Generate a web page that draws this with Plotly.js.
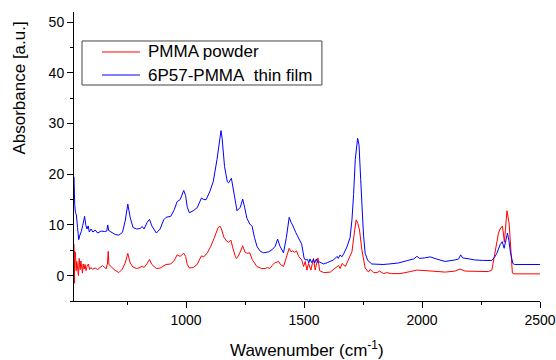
<!DOCTYPE html>
<html>
<head>
<meta charset="utf-8">
<script src="https://cdn.plot.ly/plotly-3.0.1.min.js"></script>
<style>html,body{margin:0;padding:0;background:#fff;}#chart{width:556px;height:360px;}</style>
</head>
<body>
<div id="chart"></div>
<script>
// Series names
var seriesNames = ["PMMA powder", "6P57-PMMA\u00a0 thin film"];
var seriesColors = ["#ff0000", "#0000ff"];

// PMMA powder (red)
var powderWn = [525,526.5,528,531,534,537,540,544,547,551,554,558,561,564,568,572,576,580,586,591,596,603,615,625,635,646,655,662,667,670,673,681,695,715,730,742,753,763,775,790,805,814,822,835,845,855,874,890,905,915,935,950,962,975,990,998,1005,1014,1030,1047,1065,1075,1090,1105,1120,1135,1143,1150,1160,1172,1180,1190,1198,1210,1215,1228,1240,1250,1260,1270,1280,1300,1320,1335,1345,1355,1365,1375,1392,1400,1413,1425,1437,1445,1452,1460,1468,1477,1484,1490,1498,1505,1512,1519,1529,1540,1547,1559,1566,1583,1611,1632,1646,1653,1661,1675,1688,1703,1713,1721,1728,1735,1745,1759,1773,1780,1788,1795,1809,1820,1837,1850,1870,1907,1950,1978,2013,2060,2098,2140,2161,2182,2225,2281,2296,2310,2317,2324,2331,2341,2349,2360,2369,2377,2383,2390,2500];
var powderAbs = [6.2,-1.5,4.8,4.5,1.0,2.8,1.8,0.0,3.4,1.2,2.9,1.9,0.5,2.3,1.3,2.2,1.0,1.8,2.3,1.2,1.6,1.3,1.5,1.2,1.6,2.0,1.6,1.4,2.5,4.8,2.2,1.8,1.2,0.6,1.3,2.5,4.4,2.5,1.7,1.4,1.6,1.9,1.6,2.4,3.2,2.2,1.4,1.5,2.0,2.2,2.3,3.0,4.1,3.8,4.4,3.8,2.2,1.5,1.6,2.2,3.9,3.7,4.5,5.8,7.5,9.4,9.8,9.2,7.6,6.8,6.6,7.0,5.5,3.6,3.4,4.5,5.9,4.6,4.4,4.5,3.2,1.8,1.4,1.4,1.6,1.4,2.0,2.5,2.8,2.2,1.8,3.5,5.4,4.7,4.9,4.6,4.9,3.8,3.4,3.1,1.8,2.8,1.1,2.4,1.1,3.4,1.1,3.5,1.0,0.6,0.7,1.4,2.0,1.4,2.4,1.8,3.1,4.7,8.4,11.0,10.3,9.0,5.1,1.5,0.7,1.2,1.0,0.6,0.6,0.9,0.4,0.6,0.4,0.4,0.8,1.1,1.0,0.8,0.7,0.9,1.3,0.9,0.8,0.8,1.1,4.7,7.1,8.4,9.2,9.8,6.6,12.8,10.4,3.8,0.5,0.35,0.35];

// 6P57-PMMA thin film (blue)
var filmWn = [525,526,528,531,535,540,545,550,556,562,570,575,580,585,590,597,605,615,625,640,655,664,668,672,685,700,715,730,742,753,763,775,790,805,814,822,835,845,855,874,890,905,915,935,950,962,975,990,998,1005,1014,1030,1047,1065,1075,1085,1100,1115,1131,1141,1148,1153,1163,1175,1180,1192,1200,1216,1230,1240,1248,1258,1270,1280,1290,1301,1315,1329,1350,1364,1378,1388,1398,1413,1425,1437,1445,1451,1465,1477,1490,1500,1505,1515,1520,1525,1532,1540,1545,1552,1558,1565,1583,1600,1625,1640,1645,1653,1660,1668,1682,1695,1703,1710,1717,1727,1733,1740,1745,1752,1759,1770,1787,1810,1835,1860,1900,1940,1965,1978,1990,2010,2035,2060,2098,2140,2155,2164,2172,2200,2222,2260,2296,2310,2317,2331,2340,2348,2355,2362,2368,2375,2385,2392,2500];
var filmAbs = [19.5,15,14,12.5,12.0,9.5,7.1,8.0,8.7,9.9,11.7,10.0,9.2,9.8,8.6,9.2,8.6,9.0,8.4,8.8,8.7,8.8,10.0,8.9,8.6,8.1,8.0,8.5,10.8,14.1,11.5,9.5,9.2,9.3,9.7,9.2,10.5,11.1,9.8,8.4,9.2,11.0,11.5,11.7,13.0,14.6,15.0,16.8,15.8,13.5,12.4,12.8,13.4,15.3,15.0,15.0,16.5,18.5,22.9,27.0,28.6,27.0,21.5,18.5,18.3,19.2,17.0,12.8,13.5,15.1,13.5,11.3,10.2,9.7,7.5,5.7,4.8,4.5,4.7,5.1,5.8,7.2,5.8,4.5,7.5,11.5,10.5,10.0,8.5,7.4,6.2,3.5,3.1,3.2,2.5,3.3,2.6,3.2,2.5,3.3,2.6,2.7,2.3,2.6,3.1,3.8,3.4,4.1,3.7,4.3,5.7,7.5,11.0,16.0,22.9,27.1,25.8,19.0,14.3,8.0,4.4,3.0,2.3,2.2,2.2,2.3,2.5,3.0,3.3,3.8,3.4,3.5,3.7,3.3,2.8,3.1,3.3,4.1,3.5,3.3,3.1,3.0,3.0,3.8,4.4,6.1,6.7,5.4,7.0,8.4,7.0,4.5,2.4,2.2,2.2];

// Axis ranges / ticks
var xRange = [525, 2500];
var yRange = [-5, 52];

var font = "Arial, 'Liberation Sans', sans-serif";

var traces = [
  {x: powderWn, y: powderAbs, type: "scatter", mode: "lines", name: seriesNames[0],
   line: {color: seriesColors[0], width: 1}},
  {x: filmWn, y: filmAbs, type: "scatter", mode: "lines", name: seriesNames[1],
   line: {color: seriesColors[1], width: 1}}
];

// Legend drawn as a boxed key (paper coordinates)
var legBox = {x0: 0.0172, x1: 0.532, y0: 0.7474, y1: 0.8997};
var legRowsY = [0.8616, 0.782];
var legLineX = [0.0601, 0.1416];
var legTextX = 0.1545;

var shapes = [
  {type: "rect", xref: "paper", yref: "paper", x0: legBox.x0, x1: legBox.x1, y0: legBox.y0, y1: legBox.y1,
   line: {color: "#444", width: 1}, fillcolor: "#fff", layer: "above"}
];
var annotations = [
  {text: "Absorbance [a.u.]", xref: "paper", yref: "paper", x: -0.119, y: 0.737,
   xanchor: "center", yanchor: "middle", textangle: -90, showarrow: false,
   font: {family: font, size: 17, color: "#000"}},
  {text: "Wawenumber (cm<sup>-1</sup>)", xref: "paper", yref: "paper", x: 0.5, y: -0.166,
   xanchor: "center", yanchor: "middle", showarrow: false,
   font: {family: font, size: 17, color: "#000"}}
];
seriesNames.forEach(function (nm, i) {
  shapes.push({type: "line", xref: "paper", yref: "paper", x0: legLineX[0], x1: legLineX[1],
               y0: legRowsY[i], y1: legRowsY[i], line: {color: seriesColors[i], width: 1}, layer: "above"});
  annotations.push({text: nm, xref: "paper", yref: "paper", x: legTextX, y: legRowsY[i],
                    xanchor: "left", yanchor: "middle", showarrow: false,
                    font: {family: font, size: 17, color: "#000"}});
});

var layout = {
  width: 556, height: 360,
  margin: {l: 74, r: 16, t: 12, b: 59},
  paper_bgcolor: "#fff", plot_bgcolor: "#fff",
  font: {family: font, size: 14, color: "#000"},
  showlegend: false,
  xaxis: {range: xRange, showgrid: false, zeroline: false, showline: true,
          linecolor: "#000", linewidth: 1, ticks: "outside", ticklen: 6, tickwidth: 1,
          tickcolor: "#000", tick0: 0, dtick: 500,
          minor: {ticks: "outside", ticklen: 3, tickwidth: 1, tickcolor: "#000", dtick: 250, tick0: 0, showgrid: false},
          tickfont: {family: font, size: 14, color: "#000"}},
  yaxis: {range: yRange, showgrid: false, zeroline: false, showline: true,
          linecolor: "#000", linewidth: 1, ticks: "outside", ticklen: 6, tickwidth: 1,
          tickcolor: "#000", tick0: 0, dtick: 10,
          minor: {ticks: "outside", ticklen: 3, tickwidth: 1, tickcolor: "#000", dtick: 5, tick0: 0, showgrid: false},
          tickfont: {family: font, size: 14, color: "#000"}},
  shapes: shapes,
  annotations: annotations
};

Plotly.newPlot("chart", traces, layout, {displayModeBar: false, staticPlot: true});
</script>
</body>
</html>
